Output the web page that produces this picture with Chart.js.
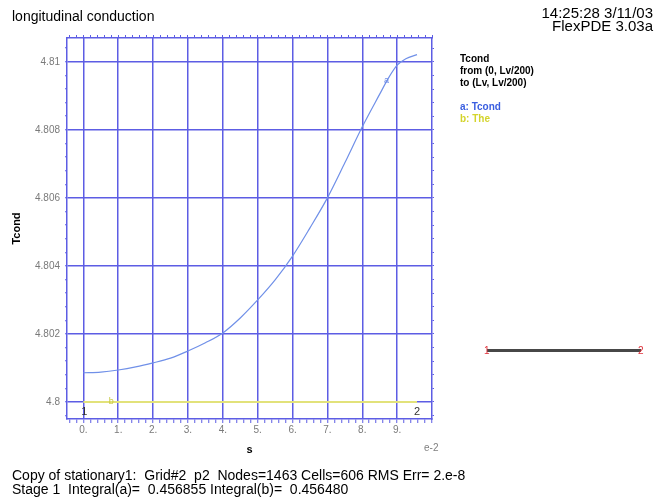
<!DOCTYPE html>
<html>
<head>
<meta charset="utf-8">
<script src="https://cdn.jsdelivr.net/npm/chart.js@4.4.1/dist/chart.umd.min.js"></script>
<style>
  body { margin: 0; background: #fff; font-family: "Liberation Sans", Arial, sans-serif; }
  #wrap { position: relative; width: 654px; height: 499px; overflow: hidden; }
  #wrap canvas { position: absolute; left: 0; top: 0; }
  .t { position: absolute; white-space: pre; line-height: 1; color: #000; }
  .leg { position: absolute; left: 460px; font-size: 10px; font-weight: bold; line-height: 1; white-space: pre; }
  .seg { position: absolute; left: 487px; top: 349px; width: 154px; height: 3px; background: #474747; }
  .end { position: absolute; color: #e0303a; font-size: 10px; line-height: 1; }
</style>
</head>
<body>
<div id="wrap">
  <canvas id="myChart" width="654" height="499"></canvas>

  <div class="t" style="left:12px; top:9px; font-size:14px;">longitudinal conduction</div>
  <div class="t" style="right:1px; top:5px; font-size:15px; text-align:right;">14:25:28 3/11/03</div>
  <div class="t" style="right:1px; top:18px; font-size:15px; text-align:right;">FlexPDE 3.03a</div>

  <div class="leg" style="top:54px;">Tcond</div>
  <div class="leg" style="top:66px;">from (0, Lv/200)</div>
  <div class="leg" style="top:78px;">to (Lv, Lv/200)</div>
  <div class="leg" style="top:102px; color:#3a5ee0;">a: Tcond</div>
  <div class="leg" style="top:114px; color:#d4d42c;">b: The</div>

  <div class="t" style="left:424px; top:443px; font-size:10px; color:#808080;">e-2</div>

  <div class="seg"></div>
  <div class="end" style="left:484px; top:346px;">1</div>
  <div class="end" style="left:638px; top:346px;">2</div>

  <div class="t" style="left:12px; top:468px; font-size:14px;">Copy of stationary1:  Grid#2  p2  Nodes=1463 Cells=606 RMS Err= 2.e-8</div>
  <div class="t" style="left:12px; top:482px; font-size:14px;">Stage 1  Integral(a)=  0.456855 Integral(b)=  0.456480</div>
</div>

<script>
// curve a: Tcond along the cut (s in units of e-2)
const sVals = [0, 0.5, 1, 1.5, 2, 2.5, 3, 3.5, 4, 4.5, 5, 5.5, 6, 6.5, 7, 7.5, 8, 8.5, 8.75, 9, 9.25, 9.57];
const tcondVals = [4.80086, 4.80088, 4.80094, 4.80103, 4.80115, 4.80129, 4.8015, 4.80174, 4.80203, 4.80247,
  4.803, 4.80359, 4.80429, 4.80512, 4.806, 4.80703, 4.80809, 4.80905, 4.80952, 4.80990, 4.81009, 4.81021];

// curve b: The
const sThe = [0, 9.57];
const theVals = [4.8, 4.8];

// tick labels
const xTickVals = [0, 1, 2, 3, 4, 5, 6, 7, 8, 9];
const xTickLabels = ['0.', '1.', '2.', '3.', '4.', '5.', '6.', '7.', '8.', '9.'];
const yTickVals = [4.8, 4.802, 4.804, 4.806, 4.808, 4.81];
const yTickLabels = ['4.8', '4.802', '4.804', '4.806', '4.808', '4.81'];

const aLabelIndex = sVals.indexOf(8.75);
const bLabelS = 0.8;

const xMin = -0.47, xMax = 10.0;
const yMin = 4.7995, yMax = 4.8107;

const gridBlue = '#5d5de4';

Chart.defaults.font.family = '"Liberation Sans", Arial, sans-serif';

// minor tick positions
const xMinor = [];
for (let k = -2; k <= 50; k++) xMinor.push(Math.round(k * 0.2 * 1000) / 1000);
const yMinor = [];
for (let k = -1; k <= 26; k++) yMinor.push(Math.round((4.8 + k * 0.0004) * 100000) / 100000);

function isMajor(v, majors) {
  return majors.some(m => Math.abs(m - v) < 1e-7);
}
function labelFor(v, majors, labels) {
  const i = majors.findIndex(m => Math.abs(m - v) < 1e-7);
  return i >= 0 ? labels[i] : '';
}

const curveMarks = {
  id: 'curveMarks',
  afterDatasetsDraw(chart) {
    const ctx = chart.ctx;
    const x = chart.scales.x, y = chart.scales.y;
    const pa = chart.getDatasetMeta(0).data[aLabelIndex];
    ctx.save();
    ctx.textAlign = 'center';
    ctx.textBaseline = 'middle';
    ctx.font = '9px "Liberation Sans", Arial';
    ctx.fillStyle = '#6a88e6';
    ctx.fillText('a', pa.x - 2, pa.y + 2);
    ctx.fillStyle = '#c8c840';
    ctx.fillText('b', x.getPixelForValue(bLabelS), y.getPixelForValue(theVals[0]));
    ctx.fillStyle = '#333';
    ctx.font = '11px "Liberation Sans", Arial';
    ctx.fillText('1', x.getPixelForValue(sThe[0]) + 1, y.getPixelForValue(theVals[0]) + 10);
    ctx.fillText('2', x.getPixelForValue(sThe[1]), y.getPixelForValue(theVals[1]) + 10);
    ctx.restore();
  }
};

const ctx = document.getElementById('myChart').getContext('2d');
const myChart = new Chart(ctx, {
  type: 'line',
  data: {
    datasets: [
      {
        label: 'Tcond',
        data: sVals.map((s, i) => ({ x: s, y: tcondVals[i] })),
        borderColor: '#7090e8',
        borderWidth: 1.2,
        pointRadius: 0,
        cubicInterpolationMode: 'monotone',
        fill: false,
      },
      {
        label: 'The',
        data: sThe.map((s, i) => ({ x: s, y: theVals[i] })),
        borderColor: '#e2e27a',
        borderWidth: 1.8,
        pointRadius: 0,
        fill: false,
      },
    ],
  },
  options: {
    responsive: false,
    animation: false,
    layout: { padding: { left: 10, right: 218, top: 34, bottom: 42 } },
    plugins: { legend: { display: false }, tooltip: { enabled: false } },
    scales: {
      x: {
        type: 'linear',
        position: 'bottom',
        min: xMin,
        max: xMax,
        afterBuildTicks: axis => { axis.ticks = xMinor.map(v => ({ value: v })); },
        afterFit: axis => { axis.height = 38; },
        ticks: {
          autoSkip: false,
          maxRotation: 0,
          padding: 1,
          color: '#7a7a7a',
          font: { size: 10 },
          callback: v => labelFor(v, xTickVals, xTickLabels),
        },
        grid: {
          color: c => (c.tick && isMajor(c.tick.value, xTickVals)) ? gridBlue : 'rgba(0,0,0,0)',
          tickColor: gridBlue,
          lineWidth: 1.5,
          tickWidth: 1,
          tickLength: 4,
        },
        border: { color: gridBlue, width: 1.5 },
        title: { display: true, text: 's', color: '#000', font: { size: 11, weight: 'bold' }, padding: 0 },
      },
      y: {
        type: 'linear',
        position: 'left',
        min: yMin,
        max: yMax,
        afterBuildTicks: axis => { axis.ticks = yMinor.map(v => ({ value: v })); },
        afterFit: axis => { axis.width = 57; },
        ticks: {
          autoSkip: false,
          padding: 5,
          color: '#7a7a7a',
          font: { size: 10 },
          callback: v => labelFor(v, yTickVals, yTickLabels),
        },
        grid: {
          color: c => (c.tick && isMajor(c.tick.value, yTickVals)) ? gridBlue : 'rgba(0,0,0,0)',
          tickColor: gridBlue,
          lineWidth: 1.5,
          tickWidth: 1,
          tickLength: 2,
        },
        border: { color: gridBlue, width: 1.5 },
        title: { display: true, text: 'Tcond', color: '#000', font: { size: 11, weight: 'bold' }, padding: 0 },
      },
      x2: {
        type: 'linear',
        position: 'top',
        min: xMin,
        max: xMax,
        afterBuildTicks: axis => { axis.ticks = xMinor.map(v => ({ value: v })); },
        afterFit: axis => { axis.height = 4; },
        ticks: { display: false, autoSkip: false },
        grid: { drawOnChartArea: false, color: gridBlue, lineWidth: 1, tickLength: 3 },
        border: { color: gridBlue, width: 1.5 },
      },
      y2: {
        type: 'linear',
        position: 'right',
        min: yMin,
        max: yMax,
        afterBuildTicks: axis => { axis.ticks = yMinor.map(v => ({ value: v })); },
        afterFit: axis => { axis.width = 4; },
        ticks: { display: false, autoSkip: false },
        grid: { drawOnChartArea: false, color: gridBlue, lineWidth: 1, tickLength: 2 },
        border: { color: gridBlue, width: 1.5 },
      },
    },
  },
  plugins: [curveMarks],
});
</script>
</body>
</html>
